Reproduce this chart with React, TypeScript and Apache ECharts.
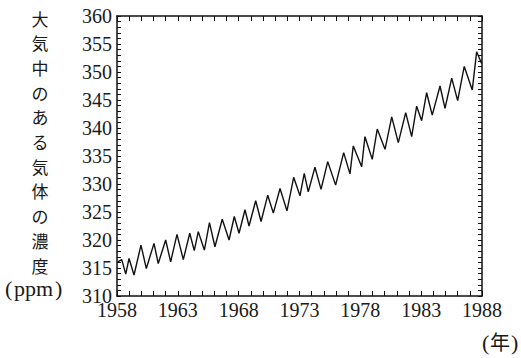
import React, { useEffect, useRef } from "react";
import * as echarts from "echarts";

// years since 1958 (decimal) and CO2 concentration (ppm) at each turning point of the curve
const yearOffsets = [
  0.06, 0.39, 0.72, 0.99, 1.4, 1.97, 2.41, 3.04, 3.39, 4.0, 4.41, 4.93, 5.45, 5.98, 6.35, 6.68,
  7.18, 7.6, 8.05, 8.65, 9.21, 9.64, 10.03, 10.52, 10.85, 11.4, 11.84, 12.39, 12.85, 13.4, 13.97,
  14.52, 15.04, 15.39, 15.72, 16.27, 16.77, 17.32, 17.97, 18.63, 19.15, 19.42, 20.11, 20.38, 20.98,
  21.39, 22.03, 22.58, 23.12, 23.73, 24.22, 24.63, 25.04, 25.45, 25.91, 26.55, 26.96, 27.51, 28.0,
  28.54, 29.2, 29.56, 29.97,
];
const ppmValues = [
  316.1, 316.5, 313.9, 316.7, 313.75, 319.1, 314.9, 319.4, 315.8, 320.0, 316.1, 321.0, 316.5, 321.2,
  318.1, 321.5, 318.2, 323.1, 318.8, 323.7, 320.0, 324.2, 321.2, 325.4, 322.5, 327.0, 323.3, 328.0,
  324.8, 329.2, 325.2, 331.2, 327.9, 331.9, 328.6, 333.0, 329.05, 334.0, 329.8, 335.6, 331.8, 336.8,
  333.1, 338.45, 334.4, 339.8, 336.2, 342.0, 337.4, 342.75, 338.45, 343.9, 341.3, 346.3, 342.3,
  347.5, 343.5, 348.9, 344.9, 351.0, 346.8, 353.6, 351.5,
];
const startYear = 1958;
const yearLabelStep = 5;
const ppmLabelStep = 5;
const yTitleChars = ["大", "気", "中", "の", "あ", "る", "気", "体", "の", "濃", "度"];
const yUnit = "ppm";
const xUnit = "年";

export default function App() {
  const ref = useRef<HTMLDivElement>(null);
  useEffect(() => {
    if (!ref.current) return;
    const chart = echarts.init(ref.current, null, { renderer: "svg" });
    const serif = "'Liberation Serif', 'DejaVu Serif', serif";
    const cjk = "'Noto Sans CJK JP', sans-serif";
    const tickStyle = { color: "#111", width: 1 };
    const data = yearOffsets.map((t, i) => [t, ppmValues[i]]);
    const xBase = {
      type: "value" as const,
      min: 0,
      max: 30,
      interval: 1,
      splitLine: { show: false },
      axisLine: { show: true, onZero: false, lineStyle: { color: "#111", width: 1.5 } },
      axisTick: { show: true, inside: true, length: 5, lineStyle: tickStyle },
    };
    const yBase = {
      type: "value" as const,
      min: 310,
      max: 360,
      interval: 1,
      splitLine: { show: false },
      axisLine: { show: true, onZero: false, lineStyle: { color: "#111", width: 1.5 } },
      axisTick: { show: true, inside: true, length: 4, lineStyle: tickStyle },
    };
    const titleTexts = yTitleChars.map((ch, i) => ({
      type: "text",
      x: 40,
      y: 18 + i * 24.7,
      style: {
        text: ch,
        font: `17px ${cjk}`,
        fill: "#1a1a1a",
        align: "center",
        verticalAlign: "middle",
      },
    }));
    chart.setOption({
      animation: false,
      grid: { left: 117, right: 39, top: 16, bottom: 62, containLabel: false },
      xAxis: [
        {
          ...xBase,
          position: "bottom",
          axisLabel: {
            show: true,
            margin: 7,
            lineHeight: 14,
            color: "#1a1a1a",
            fontFamily: serif,
            fontSize: 20,
            formatter: (v: number) =>
              Math.round(v) % yearLabelStep === 0 ? String(startYear + Math.round(v)) : "",
          },
        },
        { ...xBase, position: "top", axisLabel: { show: false } },
      ],
      yAxis: [
        {
          ...yBase,
          position: "left",
          axisLabel: {
            show: true,
            margin: 5,
            lineHeight: 14,
            color: "#1a1a1a",
            fontFamily: serif,
            fontSize: 20,
            formatter: (v: number) => (Math.round(v) % ppmLabelStep === 0 ? String(Math.round(v)) : ""),
          },
        },
        { ...yBase, position: "right", axisLabel: { show: false } },
      ],
      series: [
        {
          type: "line",
          data,
          xAxisIndex: 0,
          yAxisIndex: 0,
          symbol: "none",
          lineStyle: { color: "#111", width: 1.4 },
        },
      ],
      graphic: [
        ...titleTexts,
        {
          type: "text",
          x: 5,
          y: 277,
          style: { text: "(", font: `22px ${serif}`, fill: "#1a1a1a" },
        },
        {
          type: "text",
          x: 14,
          y: 277,
          style: { text: yUnit, font: `22px ${serif}`, fill: "#1a1a1a" },
        },
        {
          type: "text",
          x: 55,
          y: 277,
          style: { text: ")", font: `22px ${serif}`, fill: "#1a1a1a" },
        },
        {
          type: "text",
          x: 482,
          y: 331,
          style: { text: "(", font: `22px ${serif}`, fill: "#1a1a1a" },
        },
        {
          type: "text",
          x: 490,
          y: 331,
          style: { text: xUnit, font: `20px ${cjk}`, fill: "#1a1a1a" },
        },
        {
          type: "text",
          x: 511,
          y: 331,
          style: { text: ")", font: `22px ${serif}`, fill: "#1a1a1a" },
        },
      ],
    });
    return () => chart.dispose();
  }, []);
  return (
    <div
      ref={ref}
      style={{ position: "absolute", left: 0, top: 0, width: 521, height: 358, background: "#fff" }}
    />
  );
}
